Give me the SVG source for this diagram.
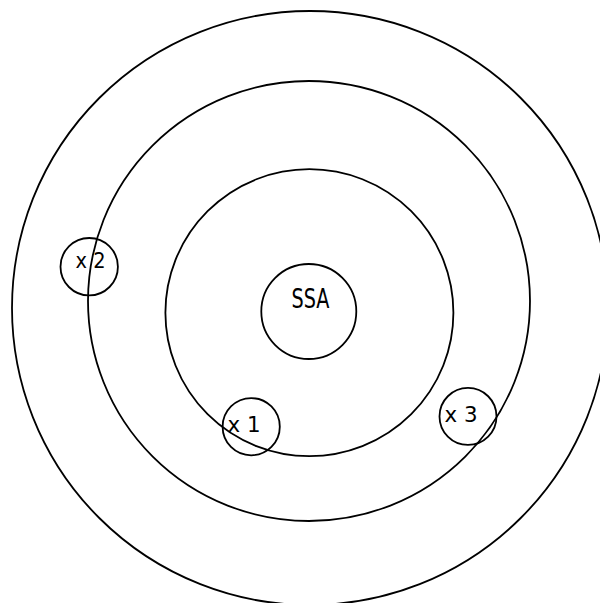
<svg xmlns="http://www.w3.org/2000/svg" width="600" height="603" viewBox="0 0 600 603">
<style>
.c{fill:none;stroke:#000;stroke-width:1.8}
.t{font-family:"DejaVu Sans Condensed","DejaVu Sans",sans-serif;fill:#000}
</style>
<rect width="600" height="603" fill="#fff"/>
<g id="ring-outer"><ellipse class="c" cx="310" cy="308" rx="298" ry="297"/></g>
<g id="ring-middle"><ellipse class="c" cx="309" cy="301" rx="221" ry="220"/></g>
<g id="ring-inner"><ellipse class="c" cx="309.4" cy="312.7" rx="144" ry="143.5"/></g>
<g id="ssa"><circle class="c" cx="308.8" cy="311.5" r="47.5"/><text class="t" x="291.5" y="307.7" font-size="26" textLength="38" lengthAdjust="spacingAndGlyphs">SSA</text></g>
<g id="x2"><circle class="c" cx="89.2" cy="266.7" r="28.7"/><text class="t" x="75.5" y="268" font-size="22" textLength="30" lengthAdjust="spacingAndGlyphs">x 2</text></g>
<g id="x1"><circle class="c" cx="251.2" cy="426.7" r="28.6"/><text class="t" x="227.5" y="431.5" font-size="22" textLength="33" lengthAdjust="spacingAndGlyphs">x 1</text></g>
<g id="x3"><circle class="c" cx="468" cy="416.4" r="28.5"/><text class="t" x="444.5" y="421.5" font-size="22" textLength="33" lengthAdjust="spacingAndGlyphs">x 3</text></g>
<g id="connectors"/>
</svg>
